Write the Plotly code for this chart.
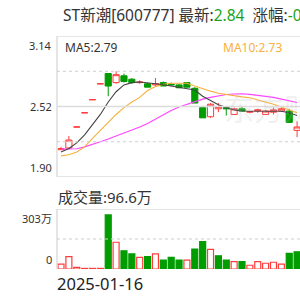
import plotly.graph_objects as go

# ---------------- data ----------------
idx = list(range(31))
opens  = [2.14, 2.155, 2.34, 2.465, 2.58, 2.72, 2.81, 2.73, 2.79, 2.76, 2.73, 2.72, 2.71, 2.73, 2.715, 2.71,
          2.73, 2.68, 2.51, 2.43, 2.50, 2.51, 2.45, 2.50, 2.47, 2.48, 2.45, 2.47, 2.48, 2.48, 2.31]
highs  = [2.165, 2.26, 2.34, 2.465, 2.58, 2.72, 2.81, 2.83, 2.81, 2.77, 2.75, 2.73, 2.77, 2.74, 2.73, 2.72,
          2.73, 2.69, 2.52, 2.55, 2.55, 2.515, 2.51, 2.52, 2.48, 2.50, 2.49, 2.51, 2.51, 2.50, 2.39]
lows   = [2.14, 2.15, 2.34, 2.465, 2.58, 2.72, 2.61, 2.72, 2.73, 2.72, 2.72, 2.69, 2.70, 2.70, 2.70, 2.68,
          2.69, 2.55, 2.42, 2.42, 2.47, 2.44, 2.45, 2.48, 2.46, 2.465, 2.45, 2.45, 2.48, 2.38, 2.25]
closes = [2.15, 2.225, 2.34, 2.465, 2.58, 2.72, 2.70, 2.80, 2.74, 2.73, 2.735, 2.69, 2.72, 2.70, 2.71, 2.685,
          2.69, 2.55, 2.42, 2.54, 2.52, 2.50, 2.50, 2.48, 2.475, 2.49, 2.48, 2.49, 2.50, 2.38, 2.34]

ma5  = [2.12, 2.15, 2.20, 2.27, 2.36, 2.45, 2.56, 2.65, 2.71, 2.73, 2.735, 2.73, 2.72, 2.712, 2.70, 2.69,
        2.68, 2.665, 2.61, 2.575, 2.535, 2.51, 2.49, 2.48, 2.478, 2.478, 2.478, 2.478, 2.478, 2.465, 2.44]
ma10 = [2.086, 2.095, 2.12, 2.165, 2.24, 2.31, 2.38, 2.45, 2.51, 2.56, 2.60, 2.66, 2.695, 2.715, 2.725, 2.727,
        2.725, 2.70, 2.675, 2.655, 2.637, 2.625, 2.615, 2.605, 2.597, 2.58, 2.56, 2.54, 2.515, 2.49, 2.465]
ma20 = [2.145, 2.146, 2.148, 2.165, 2.185, 2.21, 2.235, 2.26, 2.29, 2.315, 2.34, 2.37, 2.41, 2.45, 2.485, 2.515,
        2.54, 2.565, 2.585, 2.60, 2.615, 2.625, 2.63, 2.632, 2.627, 2.62, 2.61, 2.60, 2.585, 2.57, 2.555]

volumes = [25, 62, 8, 3, 3, 3, 273, 135, 92, 76, 59, 62, 76, 45, 59, 45,
           45, 101, 138, 99, 67, 45, 37, 37, 19, 37, 29, 34, 25, 79, 87]
vol_up  = [1, 1, 1, 1, 1, 1, 0, 1, 0, 0, 1, 0, 1, 0, 0, 0,
           1, 0, 0, 1, 0, 0, 1, 0, 1, 1, 1, 1, 1, 0, 0]

price_ticks = [1.90, 2.52, 3.14]
price_tick_text = ["1.90", "2.52", "3.14"]
vol_ticks = [0, 303]
vol_tick_text = ["0", "303万"]

stock_name = "ST新潮[600777]"
latest_label, latest_value = "最新:", "2.84"
change_label, change_value = "涨幅:", "-0.35%"
ma5_label, ma10_label = "MA5:2.79", "MA10:2.73"
vol_label = "成交量:96.6万"
date_label = "2025-01-16"

# ---------------- style ----------------
RED = "#ff3c3c"
GREEN = "#009c00"
TXT = "#333333"
ORANGE = "#f7b03c"
GRID = "#dcdcdc"
FONT = "Noto Sans, Noto Sans CJK SC, sans-serif"
W = H = 300

def px(x):
    return x / W

def py(y):
    return 1 - y / H

LEFT = 57
P_TOP, P_BOT = 36, 177
V_TOP, V_BOT = 209, 269

fig = go.Figure()

fig.add_trace(go.Candlestick(
    x=idx, open=opens, high=highs, low=lows, close=closes,
    increasing=dict(line=dict(color=RED, width=1), fillcolor="white"),
    decreasing=dict(line=dict(color=GREEN, width=1), fillcolor=GREEN),
    whiskerwidth=0, hoverinfo="skip", xaxis="x", yaxis="y", showlegend=False))

for vals, col in [(ma20, "#ff44ff"), (ma10, ORANGE), (ma5, "#444444")]:
    fig.add_trace(go.Scatter(x=idx, y=vals, mode="lines", line=dict(color=col, width=1.1),
                             hoverinfo="skip", xaxis="x", yaxis="y", showlegend=False))

fig.add_trace(go.Bar(
    x=idx, y=volumes,
    marker=dict(color=["white" if u else GREEN for u in vol_up],
                line=dict(color=[RED if u else GREEN for u in vol_up], width=1.2)),
    hoverinfo="skip", xaxis="x2", yaxis="y2", showlegend=False))

xr = [-0.51, 30.37]
fig.update_layout(
    width=W, height=H, margin=dict(l=0, r=0, t=0, b=0),
    paper_bgcolor="white", plot_bgcolor="white",
    boxgap=0.22, boxgroupgap=0, bargap=0.24,
    xaxis=dict(domain=[px(LEFT), 1], range=xr, visible=False, rangeslider=dict(visible=False), anchor="y"),
    xaxis2=dict(domain=[px(LEFT), 1], range=xr, visible=False, anchor="y2", matches="x"),
    yaxis=dict(domain=[py(P_BOT), py(P_TOP)], range=[price_ticks[0], price_ticks[-1]], visible=False, anchor="x"),
    yaxis2=dict(domain=[py(V_BOT), py(V_TOP)], range=[vol_ticks[0], vol_ticks[-1]], visible=False, anchor="x2"),
)

shapes = []
plo, phi = price_ticks[0], price_ticks[-1]
# price panel frame and grid
shapes.append(dict(type="line", xref="paper", yref="y", x0=px(LEFT), x1=1, y0=phi, y1=phi, line=dict(color=GRID, width=1.5)))
shapes.append(dict(type="line", xref="paper", yref="y", x0=px(LEFT), x1=1, y0=plo, y1=plo, line=dict(color=GRID, width=1.5)))
shapes.append(dict(type="line", xref="paper", yref="y", x0=px(LEFT), x1=px(LEFT), y0=plo, y1=phi, line=dict(color=GRID, width=1.5)))
shapes.append(dict(type="line", xref="paper", yref="y", x0=px(LEFT), x1=1, y0=price_ticks[1], y1=price_ticks[1], line=dict(color=GRID, width=1.5)))
for f in (0.25, 0.75):
    v = plo + (phi - plo) * f
    shapes.append(dict(type="line", xref="paper", yref="y", x0=px(LEFT), x1=1, y0=v, y1=v,
                       line=dict(color="#cfcfcf", width=1, dash="3px,3px")))
# volume panel frame and grid
vlo, vhi = vol_ticks[0], vol_ticks[-1]
shapes.append(dict(type="line", xref="paper", yref="y2", x0=px(LEFT), x1=1, y0=vhi, y1=vhi, line=dict(color=GRID, width=1.5)))
shapes.append(dict(type="line", xref="paper", yref="y2", x0=px(LEFT), x1=px(LEFT), y0=vlo, y1=vhi, line=dict(color=GRID, width=1.5)))
shapes.append(dict(type="line", xref="paper", yref="y2", x0=px(LEFT), x1=1, y0=(vlo + vhi) / 2, y1=(vlo + vhi) / 2,
                   line=dict(color="#cfcfcf", width=1, dash="3px,3px")))
fig.update_layout(shapes=shapes)

ann = []
title = (f"{stock_name} {latest_label}<span style='color:#1aa31a'>{latest_value}</span>  "
         f"{change_label}<span style='color:#1aa31a'>{change_value}</span>")
ann.append(dict(text=title, xref="paper", yref="paper", x=px(61), y=py(15), xanchor="left", yanchor="middle",
                showarrow=False, font=dict(family=FONT, size=15.5, color=TXT)))
ann.append(dict(text=ma5_label, xref="paper", yref="paper", x=px(63), y=py(47), xanchor="left", yanchor="middle",
                showarrow=False, font=dict(family=FONT, size=12, color=TXT)))
ann.append(dict(text=ma10_label, xref="paper", yref="paper", x=px(221), y=py(47), xanchor="left", yanchor="middle",
                showarrow=False, font=dict(family=FONT, size=12, color=ORANGE)))
ann.append(dict(text=vol_label, xref="paper", yref="paper", x=px(56), y=py(197), xanchor="left", yanchor="middle",
                showarrow=False, font=dict(family=FONT, size=15, color=TXT)))
ann.append(dict(text=date_label, xref="paper", yref="paper", x=px(55), y=py(283), xanchor="left", yanchor="middle",
                showarrow=False, font=dict(family=FONT, size=16.5, color="#222222")))
# watermark
ann.append(dict(text="东方财富", xref="paper", yref="paper", x=px(222), y=py(108), xanchor="left", yanchor="middle",
                showarrow=False, font=dict(family=FONT, size=30, color="rgba(190,190,190,0.22)")))

anchors = ["bottom", "middle", "top"]
for v, t, a in zip(price_ticks, price_tick_text, anchors):
    ann.append(dict(text=t, xref="paper", yref="y", x=px(LEFT), y=v, xanchor="right", yanchor=a, xshift=-3,
                    showarrow=False, font=dict(family=FONT, size=11, color=TXT)))
for v, t, a in zip(vol_ticks, vol_tick_text, ["bottom", "top"]):
    ann.append(dict(text=t, xref="paper", yref="y2", x=px(LEFT), y=v, xanchor="right", yanchor=a, xshift=-3,
                    showarrow=False, font=dict(family=FONT, size=11, color=TXT)))
fig.update_layout(annotations=ann)

fig.write_html("out.html", config={"displayModeBar": False, "staticPlot": True})
